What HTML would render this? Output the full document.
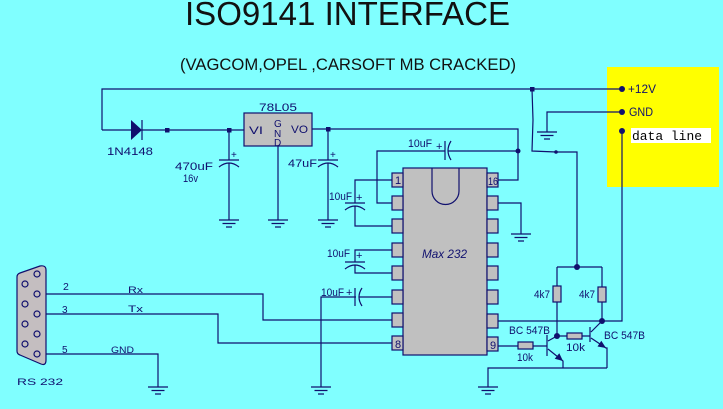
<!DOCTYPE html>
<html><head><meta charset="utf-8"><style>
html,body{margin:0;padding:0;background:#80FFFF;}
svg{display:block;}
text{font-family:"Liberation Sans",Arial,sans-serif;}
</style></head><body>
<svg width="723" height="409" viewBox="0 0 723 409" xmlns="http://www.w3.org/2000/svg">
<rect x="0" y="0" width="723" height="409" fill="#80FFFF"/>
<!-- titles -->
<text x="185" y="25" font-size="33" fill="#111" textLength="325" lengthAdjust="spacingAndGlyphs">ISO9141 INTERFACE</text>
<text x="180" y="70" font-size="16.5" fill="#111" textLength="336" lengthAdjust="spacingAndGlyphs">(VAGCOM,OPEL ,CARSOFT MB CRACKED)</text>

<!-- yellow box -->
<rect x="607" y="67" width="112" height="120" fill="#FFFF00"/>
<rect x="631" y="128" width="80" height="15" fill="#FFFFFF"/>

<g fill="none" stroke="#10106e" stroke-width="1.2">
<!-- top supply -->
<path d="M102 130 V89 H622"/>
<path d="M102 130 H131 M142 130 H244"/>
<path d="M142 120 V140"/>
<!-- regulator -->
<rect x="244" y="113" width="68" height="33" fill="#C0C0C0"/>
<path d="M278 146 V220"/>
<path d="M312 129 H518 V180 H498"/>
<!-- 470uF -->
<path d="M229 130 V160 M219 160 H239 M219 167 Q229 159 239 167 M229 163 V220"/>
<!-- 47uF -->
<path d="M328 129 V160 M318 160 H338 M318 167 Q328 159 338 167 M328 163 V220"/>
<!-- top 10uF cap line -->
<path d="M392 203 H377 V151 H445 M445 141 V160 M451 141 Q445 150.5 451 160 M448 151 H518"/>
<!-- pin1-3 cap -->
<path d="M392 180 H355 V203 M345 203 H365 M345 210 Q355 202 365 210 M355 206 V226 H392"/>
<!-- pin4-5 cap -->
<path d="M392 250 H355 V262 M345 262 H365 M345 269 Q355 261 365 269 M355 265 V273 H392"/>
<!-- pin6 cap -->
<path d="M392 297 H359 M355 288 V306 M362 288 Q356 297 362 306 M356 297 H321 V387"/>
<!-- pin15 gnd -->
<path d="M498 203 H521 V234"/>
<!-- 12V branch -->
<path d="M532 89 L533 120 L532 151 L556 152 H577 V267"/>
<!-- GND wire -->
<path d="M622 112 H547 V132"/>
<!-- data line -->
<path d="M622 131 V321 H498"/>
<!-- resistors 4k7 -->
<path d="M557 267 H602 M557 267 V286 M557 302 V336 M602 267 V287 M602 302 V321"/>
<rect x="553" y="286" width="8" height="16" fill="#C0C0C0"/>
<rect x="598" y="287" width="8" height="15" fill="#C0C0C0"/>
<!-- pin9 base resistor -->
<path d="M498 346 H518 M533 346 H547"/>
<rect x="518" y="342" width="15" height="7" fill="#C0C0C0"/>
<!-- left transistor -->
<path d="M547 335 V356 M548 341 L557 336 M548 349 L563 361 V368"/>
<!-- mid 10k -->
<path d="M557 336 H567 M582 336 H590"/>
<rect x="567" y="333" width="15" height="6" fill="#C0C0C0"/>
<!-- right transistor -->
<path d="M590 327 V342 M591 332 L602 321 M591 338 L606 348 H607 V368"/>
<!-- bottom ground rail -->
<path d="M607 368 H488 V387"/>
<!-- DB9 wires -->
<path d="M40 294 H263 V320 H392"/>
<path d="M40 314 H218 V343 H392"/>
<path d="M40 354 H158 V387"/>
<!-- grounds -->
<path d="M219 220 h20 M222.5 223.5 h13 M226 227 h6"/>
<path d="M268 220 h20 M271.5 223.5 h13 M275 227 h6"/>
<path d="M318 220 h20 M321.5 223.5 h13 M325 227 h6"/>
<path d="M537 132 h20 M540.5 135.5 h13 M544 139 h6"/>
<path d="M511 234 h20 M514.5 237.5 h13 M518 241 h6"/>
<path d="M148 387 h20 M151.5 390.5 h13 M155 394 h6"/>
<path d="M311 387 h20 M314.5 390.5 h13 M318 394 h6"/>
<path d="M478 387 h20 M481.5 390.5 h13 M485 394 h6"/>
<!-- chip -->
<rect x="403" y="168" width="84" height="187" fill="#C0C0C0"/>
<path d="M432 168 V191 A13.5 13.5 0 0 0 459 191 V168"/>
<g fill="#C0C0C0">
<rect x="392" y="173" width="11" height="14"/>
<rect x="392" y="196" width="11" height="14"/>
<rect x="392" y="219" width="11" height="14"/>
<rect x="392" y="243" width="11" height="14"/>
<rect x="392" y="266" width="11" height="14"/>
<rect x="392" y="290" width="11" height="14"/>
<rect x="392" y="313" width="11" height="14"/>
<rect x="392" y="336" width="11" height="14"/>
<rect x="487" y="173" width="11" height="14"/>
<rect x="487" y="196" width="11" height="14"/>
<rect x="487" y="219" width="11" height="14"/>
<rect x="487" y="243" width="11" height="14"/>
<rect x="487" y="266" width="11" height="14"/>
<rect x="487" y="290" width="11" height="14"/>
<rect x="487" y="314" width="11" height="14"/>
<rect x="487" y="337" width="11" height="14"/>
</g>
<!-- DB9 -->
<path d="M17 277 Q17 274 20 273 L40 266 Q46 265 46 270 V360 Q46 366 41 364 L20 355 Q17 354 17 351 Z" fill="#C4BEC0"/>
<g fill="#C4BEC0">
<circle cx="37" cy="274" r="3"/><circle cx="37" cy="294" r="3"/><circle cx="37" cy="314" r="3"/><circle cx="37" cy="334" r="3"/><circle cx="37" cy="354" r="3"/>
<circle cx="25" cy="284" r="3"/><circle cx="25" cy="304" r="3"/><circle cx="25" cy="324" r="3"/><circle cx="25" cy="344" r="3"/>
</g>
</g>

<!-- diode -->
<polygon points="131,120 131,140 142,130" fill="#10106e"/>
<!-- dots -->
<g fill="#10106e">
<rect x="165" y="128" width="4.5" height="4.5"/>
<rect x="227" y="128" width="4.5" height="4.5"/>
<rect x="326" y="127" width="4.5" height="4.5"/>
<rect x="530" y="87" width="4.5" height="4.5"/>
<circle cx="518" cy="151" r="2.5"/>
<circle cx="556" cy="152" r="1.8"/>
<circle cx="577" cy="267" r="3"/>
<circle cx="602" cy="321" r="3"/>
<circle cx="557" cy="336" r="3"/>
<circle cx="622" cy="89" r="3"/>
<circle cx="622" cy="112" r="3"/>
<circle cx="622" cy="131" r="3"/>
<polygon points="563,361 554.7,358.7 559.3,353.3"/>
<polygon points="606,348 597.5,346.5 601.3,340.7"/>
</g>

<!-- labels -->
<g fill="#10106e" font-size="11">
<text x="107" y="155" textLength="46" lengthAdjust="spacingAndGlyphs">1N4148</text>
<text x="259" y="111" textLength="38" lengthAdjust="spacingAndGlyphs">78L05</text>
<text x="249" y="134" textLength="14" lengthAdjust="spacingAndGlyphs">VI</text>
<text x="274" y="127" font-size="10">G</text>
<text x="274" y="137" font-size="10">N</text>
<text x="274" y="146" font-size="10">D</text>
<text x="291" y="133" textLength="17" lengthAdjust="spacingAndGlyphs">VO</text>
<text x="175" y="170" textLength="38" lengthAdjust="spacingAndGlyphs">470uF</text>
<text x="183" y="182" textLength="15" lengthAdjust="spacingAndGlyphs">16v</text>
<text x="288" y="167" textLength="29" lengthAdjust="spacingAndGlyphs">47uF</text>
<text x="231" y="158" font-size="10">+</text>
<text x="330" y="158" font-size="10">+</text>
<text x="408" y="147" textLength="24" lengthAdjust="spacingAndGlyphs">10uF</text>
<text x="436" y="150" font-size="11">+</text>
<text x="329" y="200" textLength="23" lengthAdjust="spacingAndGlyphs">10uF</text>
<text x="356" y="201" font-size="11">+</text>
<text x="327" y="257" textLength="23" lengthAdjust="spacingAndGlyphs">10uF</text>
<text x="356" y="259" font-size="11">+</text>
<text x="321" y="296" textLength="23" lengthAdjust="spacingAndGlyphs">10uF</text>
<text x="346" y="296" font-size="11">+</text>
<text x="422" y="258" font-size="12" font-style="italic" textLength="45" lengthAdjust="spacingAndGlyphs">Max 232</text>
<text x="395" y="184" font-size="11">1</text>
<text x="488" y="185" font-size="11" textLength="10" lengthAdjust="spacingAndGlyphs">16</text>
<text x="395" y="348" font-size="11">8</text>
<text x="490" y="349" font-size="11">9</text>
<text x="534" y="298" textLength="16" lengthAdjust="spacingAndGlyphs">4k7</text>
<text x="579" y="298" textLength="16" lengthAdjust="spacingAndGlyphs">4k7</text>
<text x="509" y="334" textLength="41" lengthAdjust="spacingAndGlyphs">BC 547B</text>
<text x="604" y="339" textLength="41" lengthAdjust="spacingAndGlyphs">BC 547B</text>
<text x="517" y="361" textLength="16" lengthAdjust="spacingAndGlyphs">10k</text>
<text x="566" y="351" textLength="19" lengthAdjust="spacingAndGlyphs">10k</text>
<text x="63" y="290" font-size="10.5">2</text>
<text x="128" y="293" font-size="9" textLength="15" lengthAdjust="spacingAndGlyphs">Rx</text>
<text x="62" y="313" font-size="10">3</text>
<text x="128" y="312" font-size="9" textLength="15" lengthAdjust="spacingAndGlyphs">Tx</text>
<text x="62" y="353" font-size="10">5</text>
<text x="111" y="353" font-size="9" textLength="23" lengthAdjust="spacingAndGlyphs">GND</text>
<text x="17" y="385" font-size="9" textLength="46" lengthAdjust="spacingAndGlyphs">RS  232</text>
</g>
<g fill="#10106e" font-size="12">
<text x="628" y="93" textLength="28" lengthAdjust="spacingAndGlyphs">+12V</text>
<text x="629" y="116" textLength="24" lengthAdjust="spacingAndGlyphs">GND</text>
</g>
<text x="632" y="140" style="font-family:'Liberation Mono','DejaVu Sans Mono',monospace;font-size:13px" fill="#000" textLength="70" lengthAdjust="spacingAndGlyphs">data line</text>
</svg>
</body></html>
